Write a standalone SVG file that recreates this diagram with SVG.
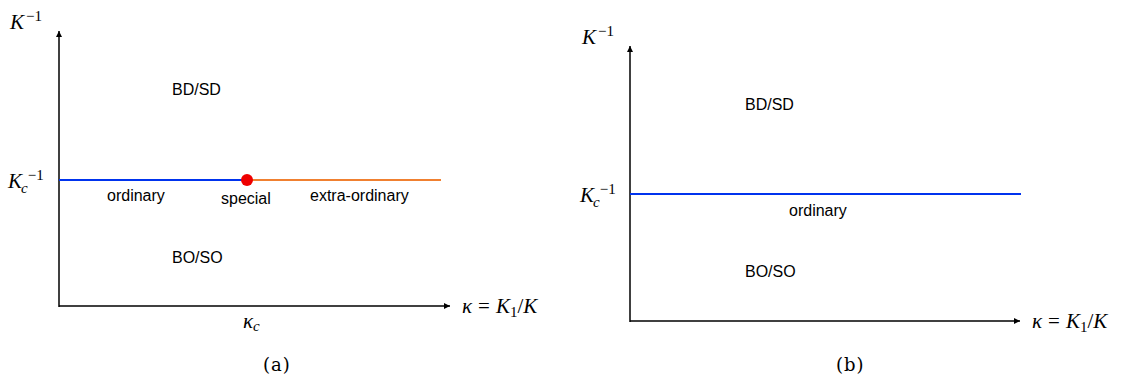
<svg xmlns="http://www.w3.org/2000/svg" width="1126" height="379" viewBox="0 0 1126 379">
<style>
.ax{stroke:#000;stroke-width:1.5;fill:none}
.lbl{font-family:"Liberation Sans",Arial,sans-serif;font-size:16px;fill:#000}
.m{font-family:"Liberation Serif","Times New Roman",serif;font-style:italic;font-size:21px;fill:#000}
.r{font-style:normal}
.sup{font-size:15px;font-style:normal}
.cap{font-family:"DejaVu Serif",serif;font-size:18px;letter-spacing:1px;fill:#000}
</style>
<defs>
<marker id="ah" markerWidth="8" markerHeight="8" refX="6" refY="3" orient="auto" markerUnits="userSpaceOnUse"><path d="M0,0 L6,3 L0,6 Z" fill="#000"/></marker>
</defs>
<g id="connectors">
<line class="ax" x1="59" y1="307" x2="59" y2="31" marker-end="url(#ah)"/>
<line class="ax" x1="59" y1="306" x2="450" y2="306" marker-end="url(#ah)"/>
<line x1="59" y1="180" x2="247" y2="180" stroke="#0033ee" stroke-width="2"/>
<line x1="247" y1="180" x2="441" y2="180" stroke="#f08030" stroke-width="2"/>
<line class="ax" x1="630" y1="322" x2="630" y2="46" marker-end="url(#ah)"/>
<line class="ax" x1="630" y1="321" x2="1020" y2="321" marker-end="url(#ah)"/>
<line x1="630" y1="194" x2="1021" y2="194" stroke="#0033ee" stroke-width="2"/>
</g>
<g id="panel-a">
<text class="m" x="10" y="29">K<tspan class="sup" dx="2" dy="-8">−1</tspan></text>
<text class="m" x="8" y="188">K<tspan class="sup" dx="-1" dy="5" style="font-style:italic">c</tspan><tspan class="sup" dx="0" dy="-13">−1</tspan></text>
<text class="lbl" x="172" y="95">BD/SD</text>
<text class="lbl" x="172" y="263">BO/SO</text>
<text class="lbl" x="107" y="201">ordinary</text>
<text class="lbl" x="221" y="204">special</text>
<text class="lbl" x="310" y="201">extra-ordinary</text>
<circle id="special-point" cx="247" cy="180" r="6" fill="#ee0000"/>
<text class="m" x="243" y="328">κ<tspan class="sup" style="font-style:italic" dy="3">c</tspan></text>
<text class="m" x="462" y="313">κ<tspan class="r" dx="6">=</tspan><tspan dx="6">K</tspan><tspan class="sup" dy="4">1</tspan><tspan dy="-4" class="r">/</tspan><tspan>K</tspan></text>
<text class="cap" x="263" y="371">(a)</text>
</g>
<g id="panel-b">
<text class="m" x="582" y="44">K<tspan class="sup" dx="2" dy="-8">−1</tspan></text>
<text class="m" x="580" y="202">K<tspan class="sup" dx="-1" dy="5" style="font-style:italic">c</tspan><tspan class="sup" dx="0" dy="-13">−1</tspan></text>
<text class="lbl" x="745" y="110">BD/SD</text>
<text class="lbl" x="745" y="277">BO/SO</text>
<text class="lbl" x="789" y="216">ordinary</text>
<text class="m" x="1032" y="328">κ<tspan class="r" dx="6">=</tspan><tspan dx="6">K</tspan><tspan class="sup" dy="4">1</tspan><tspan dy="-4" class="r">/</tspan><tspan>K</tspan></text>
<text class="cap" x="836" y="371">(b)</text>
</g>
</svg>
